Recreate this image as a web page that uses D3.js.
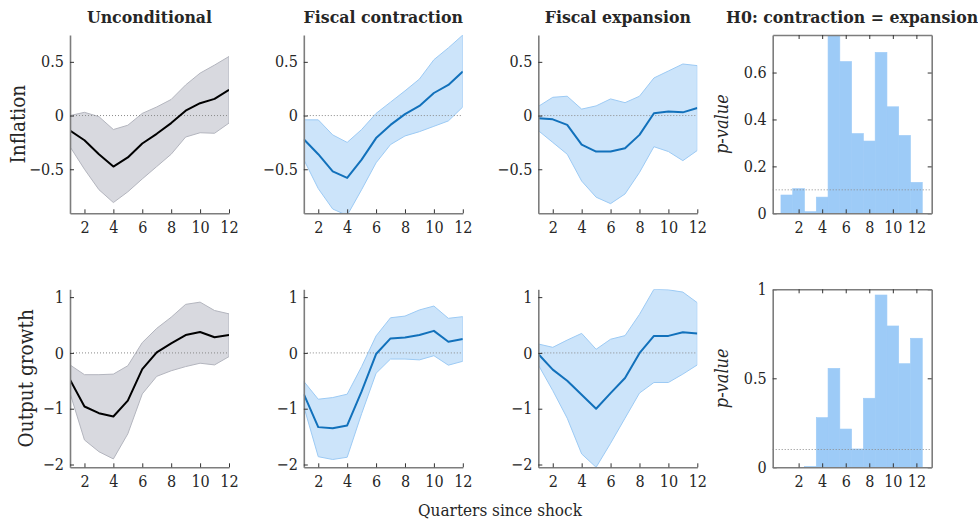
<!DOCTYPE html>
<html>
<head>
<meta charset="utf-8">
<script src="https://cdn.jsdelivr.net/npm/d3@7"></script>
<style>
  html, body { margin: 0; padding: 0; background: #ffffff; }
  svg { display: block; }
  text { font-family: "DejaVu Serif Condensed", "DejaVu Serif", serif; font-stretch: condensed; fill: #262626; }
</style>
</head>
<body>
<svg id="chart" width="978" height="521"></svg>
<script>
// Horizon (quarters since shock)
const quarters = [1, 2, 3, 4, 5, 6, 7, 8, 9, 10, 11, 12];
const xTickValues = [2, 4, 6, 8, 10, 12];

// Column titles and row labels
const columnTitles = ["Unconditional", "Fiscal contraction", "Fiscal expansion", "H0: contraction = expansion"];
const rowLabels = ["Inflation", "Output growth"];

// Inflation responses: point estimate with confidence band
const inflUncMean = [-0.14, -0.23, -0.36, -0.475, -0.39, -0.26, -0.17, -0.07, 0.045, 0.115, 0.155, 0.24];
const inflUncHi   = [0.0, 0.03, -0.01, -0.13, -0.09, 0.02, 0.08, 0.15, 0.285, 0.395, 0.47, 0.55];
const inflUncLo   = [-0.29, -0.5, -0.69, -0.81, -0.71, -0.59, -0.475, -0.36, -0.2, -0.16, -0.165, -0.07];

const inflConMean = [-0.22, -0.36, -0.52, -0.58, -0.41, -0.21, -0.087, 0.013, 0.09, 0.21, 0.285, 0.41];
const inflConHi   = [-0.04, -0.04, -0.18, -0.25, -0.13, 0.02, 0.125, 0.23, 0.34, 0.52, 0.63, 0.75];
const inflConLo   = [-0.41, -0.68, -0.87, -0.93, -0.69, -0.44, -0.27, -0.19, -0.15, -0.1, -0.05, 0.08];

const inflExpMean = [-0.025, -0.035, -0.087, -0.27, -0.335, -0.335, -0.305, -0.18, 0.022, 0.037, 0.03, 0.07];
const inflExpHi   = [0.085, 0.17, 0.18, 0.06, 0.09, 0.155, 0.12, 0.18, 0.35, 0.415, 0.48, 0.465];
const inflExpLo   = [-0.14, -0.25, -0.36, -0.61, -0.76, -0.82, -0.73, -0.53, -0.29, -0.335, -0.42, -0.325];

// Output growth responses
const outUncMean = [-0.48, -0.96, -1.08, -1.14, -0.855, -0.29, 0.01, 0.17, 0.32, 0.375, 0.28, 0.32];
const outUncHi   = [-0.215, -0.39, -0.39, -0.38, -0.23, 0.185, 0.44, 0.64, 0.87, 0.91, 0.76, 0.70];
const outUncLo   = [-0.72, -1.56, -1.77, -1.9, -1.45, -0.735, -0.42, -0.32, -0.245, -0.185, -0.215, -0.066];

const outConMean = [-0.74, -1.33, -1.35, -1.30, -0.69, -0.02, 0.26, 0.275, 0.32, 0.395, 0.20, 0.25];
const outConHi   = [-0.51, -0.83, -0.80, -0.74, -0.245, 0.305, 0.63, 0.66, 0.77, 0.84, 0.62, 0.65];
const outConLo   = [-0.96, -1.86, -1.91, -1.87, -1.09, -0.365, -0.11, -0.11, -0.125, -0.05, -0.22, -0.15];

const outExpMean = [-0.02, -0.3, -0.5, -0.75, -1.0, -0.72, -0.45, -0.005, 0.305, 0.305, 0.37, 0.35];
const outExpHi   = [0.16, 0.10, 0.23, 0.35, 0.065, 0.245, 0.31, 0.69, 1.14, 1.13, 1.09, 0.90];
const outExpLo   = [-0.215, -0.675, -1.17, -1.81, -2.05, -1.62, -1.17, -0.72, -0.53, -0.53, -0.38, -0.215];

// p-values of the test contraction = expansion
const pInfl = [0.078, 0.105, 0.007, 0.069, 0.76, 0.647, 0.34, 0.308, 0.686, 0.454, 0.332, 0.132];
const pOut  = [0, 0, 0.005, 0.279, 0.556, 0.215, 0.103, 0.388, 0.968, 0.794, 0.582, 0.725];

// Axis limits and ticks per row
const inflLim = [-0.91, 0.75];
const outLim = [-2.05, 1.14];
const inflTicks = [-0.5, 0, 0.5];
const outTicks = [-2, -1, 0, 1];
const pInflLim = [0, 0.76];
const pOutLim = [0, 1];
const pInflTicks = [0, 0.2, 0.4, 0.6];
const pOutTicks = [0, 0.5, 1];
const pThreshold = 0.1;

// ---- layout ----
const colX = [70, 303.8, 538.3];
const panelW = 159;
const barX0 = 772.7, barW = 159;
const rows = [{ top: 35, bottom: 213.3 }, { top: 289.3, bottom: 467.3 }];

const styles = {
  gray: { fill: "#d8d9df", edge: "#b3b5be", line: "#000000" },
  blue: { fill: "#cce4fa", edge: "#9ccaf4", line: "#1271bb" }
};
const axisColor = "#7d7d7d";
const barColor = "#9dcbf7";
const tickFont = 16;

const svg = d3.select("#chart");
const fmt = d => (d === 0 ? "0" : d3.format("")(d));

let clipId = 0;
function addClip(x, y, w, h) {
  const id = "clip" + (clipId++);
  svg.append("clipPath").attr("id", id)
    .append("rect").attr("x", x).attr("y", y).attr("width", w).attr("height", h);
  return "url(#" + id + ")";
}

function styleAxis(g, showLabels) {
  g.select(".domain").attr("stroke", axisColor).attr("stroke-width", 1.6);
  g.selectAll(".tick line").attr("stroke", "#333").attr("stroke-width", 1);
  g.selectAll(".tick text").attr("font-size", tickFont).attr("fill", "#333");
  if (!showLabels) g.selectAll(".tick text").remove();
}

function linePanel(col, rowIdx, mean, lo, hi, style, lim, ticks) {
  const r = rows[rowIdx];
  const x0 = colX[col];
  const x = d3.scaleLinear().domain([1, 12]).range([x0, x0 + panelW]);
  const y = d3.scaleLinear().domain(lim).range([r.bottom, r.top]);
  const g = svg.append("g");
  const clip = addClip(x0, r.top, panelW, r.bottom - r.top);

  const area = d3.area()
    .x((d, i) => x(quarters[i]))
    .y0((d, i) => y(lo[i]))
    .y1((d, i) => y(hi[i]));
  g.append("path").datum(mean).attr("d", area)
    .attr("fill", style.fill).attr("stroke", style.edge).attr("stroke-width", 1)
    .attr("clip-path", clip);

  g.append("line")
    .attr("x1", x(1)).attr("x2", x(12)).attr("y1", y(0)).attr("y2", y(0))
    .attr("stroke", "#8a8a8a").attr("stroke-width", 1).attr("stroke-dasharray", "1,2");

  const line = d3.line().x((d, i) => x(quarters[i])).y(d => y(d));
  g.append("path").datum(mean).attr("d", line)
    .attr("fill", "none").attr("stroke", style.line).attr("stroke-width", 2)
    .attr("stroke-linejoin", "round").attr("clip-path", clip);

  g.append("g").attr("transform", `translate(${x0},0)`)
    .call(d3.axisLeft(y).tickValues(ticks).tickFormat(fmt).tickSize(-4).tickSizeOuter(0).tickPadding(6))
    .call(a => styleAxis(a, true));
  g.append("g").attr("transform", `translate(0,${r.bottom})`)
    .call(d3.axisBottom(x).tickValues(xTickValues).tickSize(-4).tickSizeOuter(0).tickPadding(8))
    .call(a => styleAxis(a, true));
}

function barPanel(rowIdx, pvals, lim, ticks) {
  const r = rows[rowIdx];
  const x = d3.scaleLinear().domain([-0.2, 13.3]).range([barX0, barX0 + barW]);
  const y = d3.scaleLinear().domain(lim).range([r.bottom, r.top]);
  const g = svg.append("g");
  const clip = addClip(barX0, r.top, barW, r.bottom - r.top);

  g.append("g").attr("clip-path", clip).selectAll("rect").data(pvals).join("rect")
    .attr("x", (d, i) => x(quarters[i] - 0.5))
    .attr("width", (d, i) => x(quarters[i] + 0.5) - x(quarters[i] - 0.5))
    .attr("y", d => y(d))
    .attr("height", d => y(0) - y(d))
    .attr("fill", barColor)
    .attr("stroke", barColor).attr("stroke-width", 0.6);

  g.append("line")
    .attr("x1", barX0).attr("x2", barX0 + barW).attr("y1", y(pThreshold)).attr("y2", y(pThreshold))
    .attr("stroke", "#8a8a8a").attr("stroke-width", 1).attr("stroke-dasharray", "1,2");

  g.append("g").attr("transform", `translate(${barX0},0)`)
    .call(d3.axisLeft(y).tickValues(ticks).tickFormat(fmt).tickSize(-4).tickSizeOuter(0).tickPadding(6))
    .call(a => styleAxis(a, true));
  g.append("g").attr("transform", `translate(${barX0 + barW},0)`)
    .call(d3.axisRight(y).tickValues(ticks).tickSize(-4).tickSizeOuter(0))
    .call(a => styleAxis(a, false));
  g.append("g").attr("transform", `translate(0,${r.bottom})`)
    .call(d3.axisBottom(x).tickValues(xTickValues).tickSize(-4).tickSizeOuter(0).tickPadding(8))
    .call(a => styleAxis(a, true));
  g.append("g").attr("transform", `translate(0,${r.top})`)
    .call(d3.axisTop(x).tickValues(xTickValues).tickSize(-4).tickSizeOuter(0))
    .call(a => styleAxis(a, false));

  g.append("text")
    .attr("transform", `translate(${barX0 - 45},${(r.top + r.bottom) / 2}) rotate(-90)`)
    .attr("text-anchor", "middle").attr("font-size", 18).attr("font-style", "italic")
    .attr("fill", "#404040")
    .text("p-value");
}

// Inflation row
linePanel(0, 0, inflUncMean, inflUncLo, inflUncHi, styles.gray, inflLim, inflTicks);
linePanel(1, 0, inflConMean, inflConLo, inflConHi, styles.blue, inflLim, inflTicks);
linePanel(2, 0, inflExpMean, inflExpLo, inflExpHi, styles.blue, inflLim, inflTicks);
barPanel(0, pInfl, pInflLim, pInflTicks);

// Output growth row
linePanel(0, 1, outUncMean, outUncLo, outUncHi, styles.gray, outLim, outTicks);
linePanel(1, 1, outConMean, outConLo, outConHi, styles.blue, outLim, outTicks);
linePanel(2, 1, outExpMean, outExpLo, outExpHi, styles.blue, outLim, outTicks);
barPanel(1, pOut, pOutLim, pOutTicks);

// Column titles
const titleCenters = colX.map(x0 => x0 + panelW / 2).concat([barX0 + barW / 2]);
svg.selectAll("text.title").data(columnTitles).join("text")
  .attr("class", "title")
  .attr("x", (d, i) => titleCenters[i]).attr("y", 23)
  .attr("text-anchor", "middle").attr("font-size", 17.5).attr("font-weight", "bold")
  .attr("fill", "#000")
  .text(d => d);

// Row labels
const rowLabelX = [25, 33];
rowLabels.forEach((lab, i) => {
  const r = rows[i];
  svg.append("text")
    .attr("transform", `translate(${rowLabelX[i]},${(r.top + r.bottom) / 2}) rotate(-90)`)
    .attr("text-anchor", "middle").attr("font-size", 20.5).attr("fill", "#404040")
    .text(lab);
});

// Shared x-axis label
svg.append("text")
  .attr("x", 500).attr("y", 516)
  .attr("text-anchor", "middle").attr("font-size", 17).attr("fill", "#404040")
  .text("Quarters since shock");
</script>
</body>
</html>
